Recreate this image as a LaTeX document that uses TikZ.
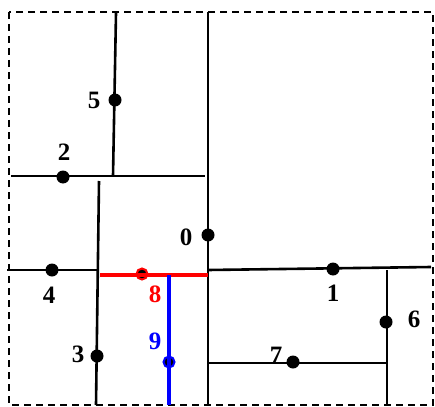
\documentclass[tikz,border=0pt]{standalone}
\usepackage{fontspec}
\setmainfont{Liberation Serif}
\begin{document}
\begin{tikzpicture}[x=1pt,y=-1pt,
  seg/.style={line width=2.6pt,black},
  redseg/.style={line width=3.4pt,red},
  blueseg/.style={line width=3.4pt,blue},
  dot/.style={circle,fill=black,inner sep=0pt,minimum size=13pt},
  rdot/.style={dot,draw=red,line width=2pt,minimum size=11pt},
  bdot/.style={dot,draw=blue,line width=2pt,minimum size=11pt},
  lab/.style={font=\fontsize{25}{25}\selectfont\bfseries,inner sep=0pt},
  border/.style={line width=2pt,dash pattern=on 7pt off 5pt}]
\useasboundingbox (0,0) rectangle (435,406);
\draw[border] (9,12) rectangle (433,405);
% end points
\coordinate (a0) at (208,12);  \coordinate (b0) at (208,405);
\coordinate (a5) at (116,13);  \coordinate (b5) at (113,176);
\coordinate (a2) at (11,176);  \coordinate (b2) at (205,176);
\coordinate (a3) at (99,181);  \coordinate (b3) at (96,405);
\coordinate (a4) at (7,270);   \coordinate (b4) at (97,270);
\coordinate (a8) at (100,275); \coordinate (b8) at (208,275);
\coordinate (a9) at (169,275); \coordinate (b9) at (169,405);
\coordinate (a1) at (208,270); \coordinate (b1) at (431,267);
\coordinate (a6) at (387,270); \coordinate (b6) at (387,405);
\coordinate (a7) at (208,363); \coordinate (b7) at (387,363);
% dots
\node[dot] (d0) at (208,235) {};
\node[dot] (d5) at (115,100) {};
\node[dot] (d2) at (63,177) {};
\node[dot] (d3) at (97,356) {};
\node[dot] (d4) at (52,270) {};
\node[rdot] (d8) at (142,274) {};
\node[bdot] (d9) at (169,362) {};
\node[dot] (d1) at (333,269) {};
\node[dot] (d6) at (386,322) {};
\node[dot] (d7) at (293,362) {};
% lines
\draw[seg] (a0) -- (b0);
\draw[seg] (a5) -- (b5);
\draw[seg] (a2) -- (b2);
\draw[seg] (a3) -- (b3);
\draw[seg] (a4) -- (b4);
\draw[seg] (a1) -- (b1);
\draw[seg] (a6) -- (b6);
\draw[seg] (a7) -- (b7);
\draw[redseg] (a8) -- (b8);
\draw[blueseg] (a9) -- (b9);
% labels
\node[lab] (l0) at (186,237) {0};
\node[lab] (l5) at (94,100) {5};
\node[lab] (l2) at (64,152) {2};
\node[lab] (l3) at (78,354) {3};
\node[lab] (l4) at (49,295) {4};
\node[lab,text=red] (l8) at (155,294) {8};
\node[lab,text=blue] (l9) at (155,341) {9};
\node[lab] (l1) at (333,293) {1};
\node[lab] (l6) at (414,319) {6};
\node[lab] (l7) at (276,355) {7};
\end{tikzpicture}
\end{document}
